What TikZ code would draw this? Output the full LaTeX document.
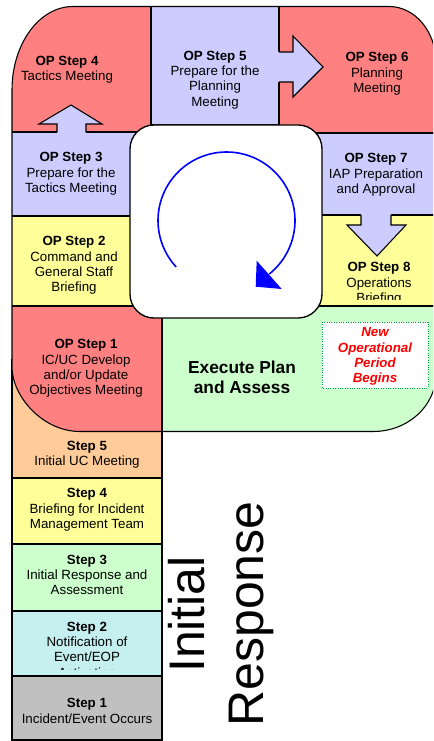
\documentclass[tikz,border=0pt]{standalone}
\usepackage{fontspec}
\setmainfont{Liberation Sans}
\definecolor{opred}{HTML}{FF8080}
\definecolor{oplav}{HTML}{CCCCFF}
\definecolor{opyel}{HTML}{FFFF99}
\definecolor{opgrn}{HTML}{CCFFCC}
\definecolor{oporg}{HTML}{FFCC99}
\definecolor{opcyn}{HTML}{C6EFEF}
\definecolor{opgry}{HTML}{C0C0C0}
\definecolor{dotgrn}{HTML}{00A651}
\begin{document}
\begin{tikzpicture}[x=0.75pt,y=-0.75pt,
  region/.style={draw=black, line width=0.8pt},
  lbl/.style={align=center, inner sep=0pt, font=\fontsize{10}{11.5}\selectfont},
  flowfill/.style={fill=oplav, draw=none},
  flowline/.style={draw=black, line width=0.8pt, line join=miter},
  bigtext/.style={inner sep=0pt, rotate=90, anchor=base, font=\fontsize{37.5}{40}\selectfont}]
\useasboundingbox (0,0) rectangle (433,741);
\clip (0,0) rectangle (433,741);

% lower column of initial response steps
\draw[region, fill=oporg] (12,360) rectangle (162,478);
\draw[region, fill=opyel] (12,478) rectangle (162,544);
\draw[region, fill=opgrn] (12,544) rectangle (162,611);
\draw[region, fill=opcyn] (12,611) rectangle (162,676);
\draw[region, fill=opgry] (12,676) rectangle (162,740);

\def\outerpath{(12,90) .. controls (12,43.9) and (39.3,6.5) .. (73,6.5) -- (389,6.5) .. controls (415,6.5) and (436,31.6) .. (436,62.5) -- (436,374) .. controls (436,406) and (407.8,431.5) .. (373,431.5) -- (80,431.5) .. controls (42.4,431.5) and (12,396) .. (12,367) -- cycle}

\begin{scope}
  \clip \outerpath;
  \draw[region, fill=opred] (0,0) rectangle (151,132);
  \draw[region, fill=oplav] (151,0) rectangle (279,125);
  \draw[region, fill=opred] (279,0) rectangle (450,133);
  \draw[region, fill=oplav] (0,132) rectangle (200,216);
  \draw[region, fill=opyel] (0,216) rectangle (200,306);
  \draw[region, fill=oplav] (250,133) rectangle (450,215);
  \draw[region, fill=opyel] (250,215) rectangle (450,306);
  \draw[region, fill=opred] (0,306) rectangle (162,450);
  \draw[region, fill=opgrn] (162,306) rectangle (450,450);
\end{scope}
\draw[region] \outerpath;

% flow arrows
\fill[oplav] (57,134) -- (57,124) -- (39,124) -- (71,105) -- (102,124) -- (86,124) -- (86,134) -- cycle;
\draw[flowline] (57,132.5) -- (57,124) -- (39,124) -- (71,105) -- (102,124) -- (86,124) -- (86,132.5);
\fill[oplav] (277,52) -- (293,52) -- (293,36) -- (323,67) -- (293,97) -- (293,82) -- (277,82) -- cycle;
\draw[flowline] (279,52) -- (293,52) -- (293,36) -- (323,67) -- (293,97) -- (293,82) -- (279,82);
\fill[oplav] (361,213) -- (361,225) -- (347,225) -- (377,256) -- (406,225) -- (391,225) -- (391,213) -- cycle;
\draw[flowline] (361,215) -- (361,225) -- (347,225) -- (377,256) -- (406,225) -- (391,225) -- (391,215);

% central cycle box
\draw[line width=1pt, fill=white, rounded corners=18pt] (130,125) rectangle (322,318);
\draw[blue, line width=1.2pt] plot[domain=137.3:411.4, samples=90, smooth] ({226.5+68.5*cos(\x)}, {220.5+68.5*sin(\x)});
\fill[blue] (255.7,286.7) -- (256.7,260.7) -- (281.7,289) -- cycle;

% labels of the operational period steps
\node[lbl] (op4) at (67,70) {\textbf{OP Step 4}\\Tactics Meeting};
\node[lbl] (op5) at (215,80) {\textbf{OP Step 5}\\Prepare for the\\Planning\\Meeting};
\node[lbl] (op6) at (377,74) {\textbf{OP Step 6}\\Planning\\Meeting};
\node[lbl] (op3) at (71,174) {\textbf{OP Step 3}\\Prepare for the\\Tactics Meeting};
\node[lbl] (op2) at (74,265.5) {\textbf{OP Step 2}\\Command and\\General Staff\\Briefing};
\node[lbl] (op7) at (376,175) {\textbf{OP Step 7}\\IAP Preparation\\and Approval};
\begin{scope}
  \clip (300,250) rectangle (433,299);
  \node[lbl] (op8) at (379,284) {\textbf{OP Step 8}\\Operations\\Briefing};
\end{scope}
\node[lbl] (op1) at (86,368.5) {\textbf{OP Step 1}\\IC/UC Develop\\and/or Update\\Objectives Meeting};
\node[lbl, font=\fontsize{13}{14.6}\selectfont\bfseries] (exec) at (242,377.5) {Execute Plan\\and Assess};
\draw[dotgrn, line width=0.7pt, dash pattern=on 0.8pt off 1pt, fill=white] (322,322) rectangle (428,388);
\node[lbl, text=red, font=\fontsize{10}{11.5}\selectfont\bfseries\itshape] (newop) at (375,356.5) {New\\Operational\\Period\\Begins};

% labels of the initial response steps
\node[lbl] (s5) at (87,455) {\textbf{Step 5}\\Initial UC Meeting};
\node[lbl] (s4) at (87,510) {\textbf{Step 4}\\Briefing for Incident\\Management Team};
\node[lbl] (s3) at (87,575) {\textbf{Step 3}\\Initial Response and\\Assessment};
\begin{scope}
  \clip (12,612) rectangle (162,669);
  \node[lbl] (s2) at (87,649.5) {\textbf{Step 2}\\Notification of\\Event/EOP\\Activation};
\end{scope}
\node[lbl] (s1) at (87,711) {\textbf{Step 1}\\Incident/Event Occurs};

\node[bigtext] (initial) at (204,614.5) {Initial};
\node[bigtext] (response) at (263,614) {Response};
\end{tikzpicture}
\end{document}
